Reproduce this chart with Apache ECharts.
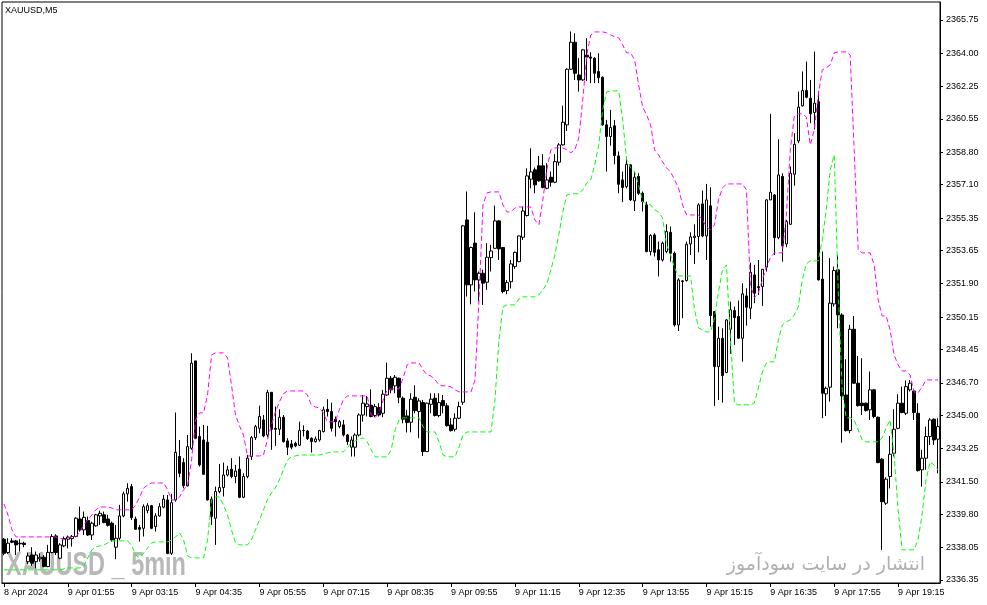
<!DOCTYPE html>
<html><head><meta charset="utf-8">
<script src="https://cdn.jsdelivr.net/npm/echarts@6.0.0/dist/echarts.min.js"></script>
<style>html,body{margin:0;padding:0;background:#fff;}#chart{width:987px;height:605px;}</style>
</head><body><div id="chart"></div>
<script>
const symbolTitle = 'XAUUSD,M5';
const tickLabels = ['8 Apr 2024','9 Apr 01:55','9 Apr 03:15','9 Apr 04:35','9 Apr 05:55','9 Apr 07:15','9 Apr 08:35','9 Apr 09:55','9 Apr 11:15','9 Apr 12:35','9 Apr 13:55','9 Apr 15:15','9 Apr 16:35','9 Apr 17:55','9 Apr 19:15'];
const tickEvery = 16;
const priceTicks = [2365.75,2364.00,2362.25,2360.55,2358.80,2357.10,2355.35,2353.65,2351.90,2350.15,2348.45,2346.70,2345.00,2343.25,2341.50,2339.80,2338.05,2336.35];
// [open, high, low, close]
const ohlc = [
[2338.49,2338.55,2337.65,2337.75],[2337.79,2338.54,2337.72,2338.28],[2338.40,2338.54,2338.28,2338.33],[2338.40,2338.45,2337.66,2338.19],[2338.28,2338.49,2337.84,2338.25],
[2338.28,2338.36,2338.07,2338.21],[2337.31,2337.79,2337.19,2337.61],[2337.66,2338.07,2337.09,2337.23],[2337.31,2337.84,2336.96,2337.66],[2337.46,2337.75,2337.31,2337.54],
[2337.54,2337.66,2337.02,2337.05],[2337.05,2338.19,2337.02,2337.80],[2337.79,2338.75,2337.75,2338.63],[2338.66,2338.75,2337.66,2337.79],[2337.49,2338.28,2337.44,2338.19],
[2338.14,2338.63,2338.07,2338.52],[2338.49,2338.68,2338.01,2338.60],[2338.52,2338.71,2338.10,2338.63],[2338.63,2339.64,2338.59,2339.59],[2339.55,2340.20,2338.89,2338.98],
[2338.98,2339.94,2338.71,2339.64],[2339.47,2339.68,2338.66,2338.71],[2338.71,2339.41,2338.45,2339.33],[2339.19,2339.82,2339.15,2339.77],[2339.71,2339.99,2339.24,2339.85],
[2339.77,2339.94,2339.33,2339.36],[2339.55,2339.77,2339.15,2339.22],[2339.33,2339.41,2338.36,2338.45],[2338.07,2339.24,2337.44,2338.54],[2338.54,2340.29,2338.45,2339.71],
[2339.71,2340.99,2339.64,2340.87],[2340.87,2341.43,2340.46,2341.16],[2341.25,2341.39,2339.50,2339.62],[2339.55,2339.68,2338.98,2339.01],[2339.10,2339.24,2338.36,2339.01],
[2339.06,2340.32,2338.63,2340.20],[2339.99,2340.38,2339.85,2340.25],[2340.25,2340.29,2339.01,2339.06],[2339.15,2339.85,2338.89,2339.71],[2339.71,2340.38,2339.68,2340.20],
[2340.17,2340.81,2340.11,2340.59],[2340.55,2340.81,2337.72,2337.75],[2337.75,2340.87,2337.66,2340.41],[2340.55,2345.14,2340.46,2343.05],[2342.83,2343.70,2341.74,2341.95],
[2342.51,2342.74,2341.16,2341.30],[2341.29,2343.96,2341.25,2343.35],[2343.26,2348.25,2343.18,2347.73],[2347.85,2347.85,2343.74,2343.79],[2343.88,2344.40,2342.30,2342.39],
[2343.70,2344.49,2341.86,2341.90],[2343.58,2344.44,2340.52,2340.55],[2340.59,2340.73,2339.24,2339.68],[2339.59,2341.25,2338.19,2340.99],[2340.99,2342.44,2340.90,2341.20],
[2341.20,2342.51,2340.73,2341.86],[2341.86,2342.34,2341.78,2342.13],[2342.16,2342.74,2341.69,2341.78],[2341.78,2342.39,2341.43,2342.07],[2342.16,2342.83,2340.64,2340.69],
[2340.69,2341.95,2340.64,2341.78],[2341.78,2342.91,2341.69,2342.74],[2342.83,2343.91,2342.65,2343.82],[2343.82,2344.49,2343.70,2344.40],[2344.31,2345.50,2344.05,2344.93],
[2344.75,2345.01,2343.84,2343.91],[2343.96,2346.33,2343.84,2346.20],[2346.20,2346.20,2343.18,2344.26],[2344.31,2345.45,2343.39,2344.26],[2344.26,2345.31,2343.96,2344.89],
[2344.89,2345.01,2343.56,2343.61],[2343.65,2343.79,2342.91,2343.32],[2343.49,2343.70,2343.21,2343.32],[2343.52,2343.61,2343.32,2343.39],[2343.42,2344.66,2343.39,2344.19],
[2344.19,2344.47,2343.88,2344.20],[2344.17,2344.23,2343.70,2343.77],[2343.79,2343.84,2343.04,2343.61],[2343.61,2343.88,2343.56,2343.75],[2343.70,2344.23,2343.61,2344.19],
[2344.14,2345.45,2344.09,2345.28],[2345.31,2345.84,2344.93,2345.19],[2345.19,2345.66,2344.14,2344.31],[2344.79,2344.93,2343.88,2344.66],[2344.40,2344.75,2344.31,2344.66],
[2344.49,2344.75,2343.88,2343.96],[2343.96,2344.02,2343.44,2343.61],[2343.32,2343.88,2342.83,2343.70],[2343.32,2344.05,2342.83,2343.96],[2343.96,2345.10,2343.88,2345.01],
[2345.01,2346.06,2344.66,2345.63],[2345.45,2346.01,2344.93,2345.59],[2345.52,2346.36,2344.89,2344.93],[2344.98,2345.59,2344.89,2345.45],[2345.40,2345.63,2344.93,2345.01],
[2345.10,2346.33,2344.89,2346.10],[2346.06,2347.76,2346.01,2346.94],[2346.94,2347.06,2346.15,2346.33],[2346.54,2347.11,2346.15,2346.99],[2346.94,2346.97,2345.63,2345.94],
[2345.89,2345.98,2344.58,2344.79],[2344.96,2345.28,2344.09,2344.61],[2344.63,2346.15,2344.10,2345.84],[2345.94,2346.57,2345.10,2345.24],[2345.19,2345.89,2343.79,2345.75],
[2345.66,2345.80,2342.86,2343.09],[2343.09,2345.66,2343.09,2345.63],[2345.57,2346.15,2345.10,2345.84],[2345.89,2346.15,2344.93,2344.98],[2344.98,2346.15,2344.89,2345.66],
[2345.77,2346.06,2345.10,2345.50],[2345.49,2345.63,2344.40,2344.45],[2344.49,2344.84,2344.14,2344.19],[2344.26,2345.10,2344.14,2344.84],[2344.84,2345.71,2344.79,2345.45],
[2345.68,2354.99,2345.54,2354.94],[2355.25,2356.74,2351.23,2351.84],[2351.84,2353.85,2350.82,2353.80],[2354.03,2355.65,2351.49,2352.10],[2352.10,2352.54,2350.96,2352.45],
[2352.45,2352.63,2350.79,2351.93],[2351.98,2354.03,2351.58,2353.29],[2353.27,2353.94,2352.54,2353.62],[2353.76,2356.00,2353.73,2355.20],[2355.20,2355.25,2353.15,2353.73],
[2353.80,2353.80,2351.40,2351.49],[2351.54,2352.10,2351.35,2351.96],[2352.01,2353.15,2351.66,2352.94],[2352.80,2353.59,2352.68,2353.55],[2353.06,2354.43,2353.03,2354.41],
[2354.34,2355.95,2354.20,2355.72],[2355.48,2357.96,2355.43,2357.56],[2357.39,2359.01,2356.91,2357.77],[2357.88,2358.00,2356.65,2357.09],[2358.09,2358.61,2357.26,2357.30],
[2358.09,2358.70,2356.91,2356.95],[2356.91,2358.23,2356.86,2357.35],[2357.49,2357.79,2357.00,2357.23],[2357.23,2358.70,2357.18,2358.31],[2358.28,2359.28,2358.10,2359.19],
[2359.19,2361.25,2359.15,2360.38],[2360.24,2363.21,2359.92,2363.16],[2363.16,2365.14,2363.13,2364.58],[2364.58,2365.05,2362.60,2362.95],[2362.86,2363.74,2361.99,2362.60],
[2362.60,2364.23,2362.55,2364.18],[2363.90,2364.79,2362.55,2363.80],[2363.80,2364.05,2362.43,2363.74],[2363.74,2363.79,2362.43,2362.95],[2363.04,2364.00,2362.43,2362.72],
[2362.74,2362.78,2360.20,2360.24],[2360.24,2360.50,2357.79,2359.63],[2359.63,2361.03,2359.15,2360.10],[2360.19,2360.50,2358.17,2358.63],[2358.61,2358.84,2356.65,2357.12],
[2357.35,2357.79,2356.18,2356.95],[2357.00,2358.58,2356.91,2358.17],[2358.14,2358.17,2356.25,2356.30],[2356.25,2357.79,2355.72,2357.49],[2357.53,2357.70,2356.56,2356.65],
[2356.65,2356.74,2355.69,2356.21],[2356.04,2356.21,2353.55,2353.59],[2353.59,2354.50,2353.38,2354.43],[2354.46,2354.55,2353.33,2353.55],[2353.68,2354.11,2352.28,2353.15],
[2353.15,2354.11,2353.06,2354.03],[2353.59,2355.02,2353.50,2354.64],[2354.60,2354.90,2353.06,2353.50],[2353.50,2353.59,2349.65,2349.74],[2349.74,2352.19,2349.42,2352.10],
[2352.01,2352.10,2350.09,2352.05],[2352.07,2354.11,2352.01,2353.97],[2353.99,2354.60,2353.41,2354.36],[2354.32,2355.02,2352.94,2354.40],[2354.38,2356.13,2353.55,2356.04],
[2356.09,2356.79,2354.34,2354.41],[2354.41,2357.14,2353.15,2356.30],[2355.99,2356.97,2349.65,2350.23],[2350.44,2350.44,2345.49,2347.55],[2347.55,2349.65,2345.80,2349.04],
[2349.04,2349.56,2345.66,2347.08],[2347.24,2350.04,2347.20,2350.00],[2349.51,2350.96,2348.22,2350.53],[2350.49,2350.70,2348.69,2350.12],[2350.18,2351.02,2349.00,2349.04],
[2349.04,2351.93,2347.81,2351.37],[2351.26,2351.66,2349.70,2350.67],[2350.61,2353.01,2350.04,2352.50],[2352.36,2352.89,2350.88,2351.40],[2351.75,2353.15,2351.31,2351.70],
[2351.75,2352.66,2350.74,2352.66],[2352.77,2356.34,2352.54,2356.30],[2356.30,2360.82,2356.30,2356.70],[2356.56,2356.60,2353.41,2354.32],[2354.32,2359.49,2354.24,2357.61],
[2357.53,2357.70,2353.06,2353.89],[2353.99,2355.25,2353.82,2355.16],[2355.02,2358.05,2354.99,2357.70],[2357.65,2359.80,2357.05,2359.22],[2359.40,2361.99,2359.28,2361.17],
[2361.24,2363.04,2361.20,2362.04],[2362.04,2363.56,2361.64,2361.69],[2361.64,2362.60,2360.33,2360.82],[2360.89,2364.09,2360.00,2361.38],[2361.46,2362.00,2352.07,2352.10],
[2352.14,2353.59,2344.84,2346.15],[2346.12,2346.50,2344.96,2346.41],[2346.47,2353.24,2345.71,2350.88],[2350.84,2352.80,2350.70,2352.59],[2352.63,2353.41,2349.56,2350.26],
[2350.26,2350.35,2343.56,2346.01],[2346.06,2347.94,2344.14,2344.19],[2344.19,2349.74,2344.05,2349.51],[2349.51,2350.21,2346.64,2346.68],[2346.68,2348.11,2345.45,2345.50],
[2345.63,2347.99,2345.01,2345.50],[2345.63,2345.66,2345.19,2345.24],[2345.28,2347.29,2344.75,2346.33],[2346.33,2346.36,2344.84,2344.93],[2344.89,2344.93,2342.48,2342.51],
[2342.69,2342.74,2337.93,2340.46],[2340.38,2341.74,2340.29,2341.64],[2341.78,2343.91,2341.16,2342.95],[2343.00,2345.31,2342.83,2344.26],[2344.31,2346.10,2344.26,2345.63],
[2345.63,2346.50,2345.10,2345.14],[2345.10,2346.82,2345.01,2346.50],[2346.33,2346.85,2346.24,2346.68],[2346.27,2346.33,2344.75,2345.14],[2345.10,2345.63,2342.04,2342.09],
[2342.13,2343.18,2341.25,2342.74],[2342.74,2344.40,2342.13,2343.88],[2343.88,2344.84,2343.44,2344.75],[2344.79,2344.82,2343.44,2343.70],[2343.74,2344.84,2341.95,2344.40]
];
const upperBand = [
2340.34,2339.76,2338.98,2338.61,2338.61,2338.61,2338.61,2338.61,2338.61,2338.61,
2338.61,2338.61,2338.61,2338.61,2338.55,2338.45,2338.56,2338.61,2338.61,2338.87,
2339.24,2339.50,2339.76,2340.03,2340.18,2340.18,2340.18,2340.13,2340.03,2340.03,
2340.03,2340.03,2340.03,2340.29,2340.71,2341.18,2341.34,2341.44,2341.44,2341.44,
2341.44,2341.08,2340.55,2340.55,2340.71,2341.08,2341.34,2342.65,2344.75,2345.12,
2345.12,2346.06,2348.16,2348.27,2348.27,2348.27,2348.00,2346.59,2345.01,2344.44,
2343.96,2342.86,2342.86,2342.86,2342.86,2342.91,2343.70,2344.49,2345.17,2345.70,
2346.12,2346.27,2346.27,2346.27,2346.27,2346.27,2346.06,2345.54,2345.43,2345.38,
2345.12,2344.65,2344.65,2344.65,2345.28,2345.80,2346.01,2346.01,2346.01,2346.01,
2346.01,2346.01,2345.01,2344.86,2345.17,2345.80,2346.33,2346.38,2346.38,2346.38,
2346.96,2347.64,2347.74,2347.74,2347.74,2347.38,2347.11,2347.06,2346.85,2346.59,
2346.54,2346.54,2346.48,2346.33,2346.22,2346.22,2346.22,2346.22,2346.85,2351.05,
2356.04,2356.67,2356.72,2356.72,2356.72,2356.04,2355.67,2355.67,2355.88,2355.93,
2355.93,2355.93,2355.93,2355.25,2354.99,2356.30,2357.88,2358.93,2359.03,2359.03,
2359.03,2358.93,2358.77,2358.93,2359.56,2361.55,2363.91,2364.96,2365.12,2365.12,
2365.12,2365.07,2364.96,2364.86,2364.81,2364.44,2364.02,2364.02,2363.65,2362.34,
2361.18,2360.76,2360.24,2358.93,2358.66,2358.30,2357.98,2357.77,2357.35,2356.93,
2356.04,2355.51,2355.51,2355.51,2355.51,2355.25,2354.88,2354.73,2354.99,2356.30,
2356.93,2357.14,2357.14,2357.14,2357.14,2357.14,2356.83,2351.84,2351.16,2351.42,
2352.10,2352.78,2353.26,2353.52,2353.52,2353.52,2355.51,2358.93,2360.71,2360.82,
2360.82,2360.66,2359.19,2359.98,2361.81,2363.13,2363.23,2363.39,2364.02,2364.07,
2364.07,2364.07,2363.91,2358.93,2353.68,2353.52,2353.52,2353.52,2352.89,2351.05,
2350.21,2350.21,2349.48,2348.16,2347.64,2347.32,2347.32,2347.11,2346.22,2346.17,
2346.48,2346.85,2346.85,2346.85,2346.85
];
const lowerBand = [
2336.88,2336.88,2336.88,2336.88,2336.88,2336.88,2336.88,2336.88,2336.88,2336.88,
2336.88,2336.88,2336.88,2336.88,2336.88,2336.93,2336.98,2336.98,2336.98,2336.98,
2337.09,2337.51,2337.93,2338.08,2338.14,2338.19,2338.29,2338.40,2338.40,2338.40,
2338.40,2338.40,2338.14,2337.66,2337.51,2337.77,2338.03,2338.29,2338.35,2338.35,
2338.35,2338.35,2338.45,2338.61,2338.82,2338.45,2337.61,2337.51,2337.51,2337.51,
2337.51,2338.45,2340.55,2340.71,2340.71,2340.29,2339.76,2338.98,2338.29,2338.19,
2338.19,2338.19,2338.45,2338.98,2339.50,2340.03,2340.55,2340.92,2341.18,2341.60,
2342.13,2342.65,2342.81,2342.86,2342.91,2342.91,2342.91,2342.91,2342.91,2342.91,
2342.97,2343.02,2343.07,2343.07,2343.07,2343.07,2343.28,2343.54,2343.65,2343.75,
2343.81,2343.60,2343.18,2342.81,2342.81,2342.81,2342.81,2343.18,2344.23,2344.75,
2344.86,2344.86,2344.86,2344.86,2344.86,2344.38,2344.12,2344.12,2344.12,2343.60,
2342.91,2342.81,2342.81,2342.81,2343.33,2343.96,2344.12,2344.12,2344.12,2344.12,
2344.12,2344.12,2344.12,2345.80,2348.95,2350.68,2350.79,2350.79,2350.79,2351.10,
2351.21,2351.21,2351.21,2351.21,2351.31,2351.58,2351.89,2352.63,2353.41,2354.46,
2355.67,2356.56,2356.62,2356.62,2356.62,2356.83,2357.19,2357.35,2358.14,2359.19,
2361.03,2361.97,2362.02,2362.02,2362.02,2360.50,2358.40,2357.98,2357.77,2357.09,
2356.20,2356.09,2356.04,2355.78,2355.67,2355.36,2353.94,2353.41,2352.73,2352.31,
2352.31,2352.31,2352.31,2350.53,2349.58,2349.48,2349.37,2349.37,2350.10,2351.47,
2352.63,2352.89,2348.95,2345.64,2345.54,2345.54,2345.54,2345.54,2345.64,2346.43,
2347.27,2347.74,2347.80,2347.80,2348.95,2349.74,2349.90,2350.00,2350.26,2350.68,
2352.10,2352.94,2353.10,2353.10,2353.10,2354.20,2355.78,2357.88,2358.66,2351.58,
2346.33,2344.86,2344.86,2344.75,2344.23,2343.70,2343.60,2343.60,2343.60,2343.60,
2343.81,2344.33,2344.75,2342.91,2340.03,2337.93,2337.93,2337.93,2337.93,2338.45,
2339.76,2341.60,2342.55,2342.39,2342.13
];
const watermarkLeft = 'XAUUSD _ 5min';
const watermarkRight = 'انتشار در سایت سودآموز';

const categories = ohlc.map((_, i) => String(i));
const candleData = ohlc.map(r => [r[0], r[3], r[2], r[1]]);
const isTick = (i) => i % tickEvery === 0;

const chart = echarts.init(document.getElementById('chart'), null, {renderer: 'canvas'});
chart.setOption({
  animation: false,
  backgroundColor: '#ffffff',
  grid: {left: 2, right: 47, top: 2, bottom: 22, show: true, borderColor: '#000', borderWidth: 1, backgroundColor: 'transparent'},
  xAxis: {
    type: 'category', data: categories, boundaryGap: true,
    axisLine: {show: true, lineStyle: {color: '#000', width: 1}},
    axisTick: {show: true, alignWithLabel: true, interval: isTick, length: 4, lineStyle: {color: '#000'}},
    axisLabel: {show: true, interval: isTick, formatter: (v, i) => tickLabels[Math.round(Number(v) / tickEvery)] || '',
      align: 'left', margin: 5, color: '#000', fontSize: 9, fontFamily: 'Liberation Sans'},
    splitLine: {show: false}
  },
  yAxis: {
    type: 'value', position: 'right', min: 2336.19, max: 2366.69, scale: true,
    axisLine: {show: true, lineStyle: {color: '#000'}},
    axisTick: {show: true, length: 3, customValues: priceTicks, lineStyle: {color: '#000'}},
    axisLabel: {customValues: priceTicks, formatter: v => Number(v).toFixed(2), margin: 6, color: '#000', fontSize: 9, fontFamily: 'Liberation Sans'},
    splitLine: {show: false}
  },
  graphic: [
    {type: 'text', x: 5, y: 6, z: 10, style: {text: symbolTitle, fill: '#000', font: '9px "Liberation Sans"', textAlign: 'left', textVerticalAlign: 'top'}},
    {type: 'text', x: 6, y: 566, scaleX: 0.69, z: 0, style: {text: watermarkLeft, fill: '#b8b8b8', font: 'bold 34px "Liberation Sans"', textAlign: 'left', textVerticalAlign: 'middle'}},
    {type: 'text', x: 925, y: 565, z: 0, style: {text: watermarkRight, fill: '#b0b0b0', font: '19px "DejaVu Sans"', textAlign: 'right', textVerticalAlign: 'middle'}}
  ],
  series: [
    {type: 'candlestick', data: candleData, barWidth: 3, silent: true, z: 3,
      itemStyle: {color: '#ffffff', color0: '#000000', borderColor: '#000000', borderColor0: '#000000', borderColorDoji: '#000000', borderWidth: 1}},
    {type: 'line', data: upperBand, symbol: 'none', silent: true, z: 4, lineStyle: {color: '#ff00ff', width: 1, type: [5, 3]}},
    {type: 'line', data: lowerBand, symbol: 'none', silent: true, z: 4, lineStyle: {color: '#00ff00', width: 1, type: [5, 3]}}
  ]
});
</script></body></html>
